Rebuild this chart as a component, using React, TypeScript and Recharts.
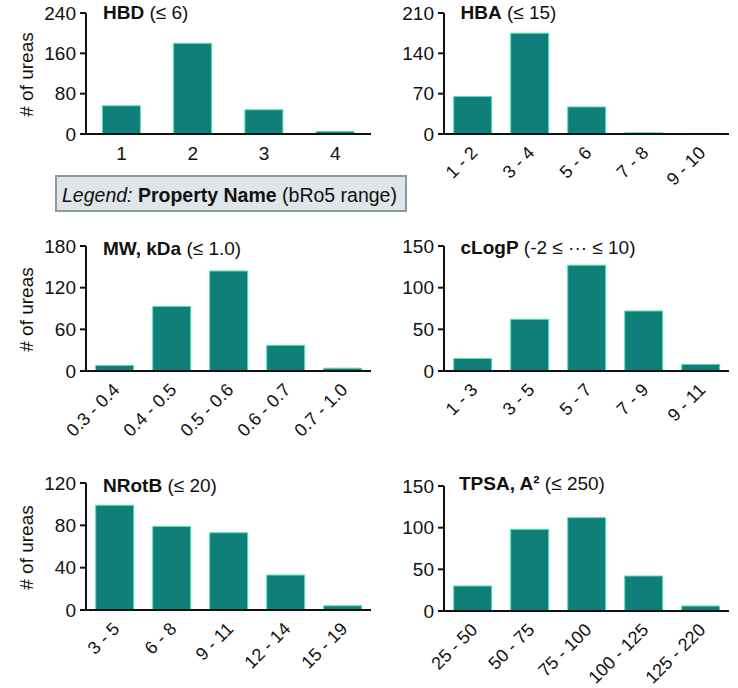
import React from 'react';
import { BarChart, Bar, XAxis, YAxis } from 'recharts';

const FONT = 'Arial, "Liberation Sans", Helvetica, sans-serif';
const BAR_FILL = '#107f7a';
const BAR_EDGE = '#4fe3b6';
const INK = '#111';

// counts of ureas per bin
const hbdCats = ['1', '2', '3', '4'];
const hbdCounts = [56, 180, 48, 5];
const hbdTicks = [0, 80, 160, 240];

const hbaCats = ['1 - 2', '3 - 4', '5 - 6', '7 - 8', '9 - 10'];
const hbaCounts = [65, 175, 47, 2, 1];
const hbaTicks = [0, 70, 140, 210];

const mwCats = ['0.3 - 0.4', '0.4 - 0.5', '0.5 - 0.6', '0.6 - 0.7', '0.7 - 1.0'];
const mwCounts = [8, 93, 144, 37, 4];
const mwTicks = [0, 60, 120, 180];

const clogpCats = ['1 - 3', '3 - 5', '5 - 7', '7 - 9', '9 - 11'];
const clogpCounts = [15, 62, 127, 72, 8];
const clogpTicks = [0, 50, 100, 150];

const nrotbCats = ['3 - 5', '6 - 8', '9 - 11', '12 - 14', '15 - 19'];
const nrotbCounts = [99, 79, 73, 33, 4];
const nrotbTicks = [0, 40, 80, 120];

const tpsaCats = ['25 - 50', '50 - 75', '75 - 100', '100 - 125', '125 - 220'];
const tpsaCounts = [30, 98, 112, 42, 6];
const tpsaTicks = [0, 50, 100, 150];

const FlatTick = (props: any) => {
  const { x, y, payload } = props;
  return (
    <text x={x} y={y + 26} textAnchor="middle" fontSize={19} fontFamily={FONT} fill={INK}>
      {payload.value}
    </text>
  );
};

const AngledTick = (props: any) => {
  const { x, y, payload } = props;
  const ax = x + 6;
  const ay = y + 20;
  return (
    <text x={ax} y={ay} textAnchor="end" transform={`rotate(-45 ${ax} ${ay})`} fontSize={18} fontFamily={FONT} fill={INK}>
      {payload.value}
    </text>
  );
};

const UreaLabel = (props: any) => {
  const vb = props.viewBox || {};
  const cx = 33;
  const cy = vb.y + vb.height / 2 + 1;
  return (
    <text x={cx} y={cy} textAnchor="middle" transform={`rotate(-90 ${cx} ${cy})`} fontSize={19} fontFamily={FONT} fill={INK}>
      # of ureas
    </text>
  );
};

type PanelProps = {
  cats: string[];
  counts: number[];
  ticks: number[];
  left: number;
  top: number;
  width: number;
  plotTop: number;
  plotHeight: number;
  axisHeight: number;
  yWidth: number;
  angled: boolean;
  gap: string;
  showLabel: boolean;
};

const Panel = ({ cats, counts, ticks, left, top, width, plotTop, plotHeight, axisHeight, yWidth, angled, gap, showLabel }: PanelProps) => {
  const data = cats.map((c, i) => ({ cat: c, count: counts[i] }));
  const height = plotTop + plotHeight + axisHeight;
  return (
    <div style={{ position: 'absolute', left, top }}>
      <BarChart width={width} height={height} data={data} margin={{ top: plotTop, right: 1, bottom: 0, left: 0 }} barCategoryGap={gap}>
        <XAxis
          dataKey="cat"
          height={axisHeight}
          interval={0}
          tickLine={false}
          tickSize={0}
          tickMargin={0}
          axisLine={{ stroke: INK, strokeWidth: 2 }}
          tick={angled ? <AngledTick /> : <FlatTick />}
        />
        <YAxis
          width={yWidth}
          domain={[0, ticks[ticks.length - 1]]}
          ticks={ticks}
          interval={0}
          axisLine={{ stroke: INK, strokeWidth: 2 }}
          tickLine={{ stroke: INK, strokeWidth: 2 }}
          tickSize={6}
          tickMargin={4}
          tick={{ fontSize: 19, fill: INK, fontFamily: FONT }}
          label={showLabel ? UreaLabel : undefined}
        />
        <Bar dataKey="count" fill={BAR_FILL} stroke={BAR_EDGE} strokeWidth={1} isAnimationActive={false} />
      </BarChart>
    </div>
  );
};

const Title = ({ x, y, bold, rest }: { x: number; y: number; bold: string; rest: string }) => (
  <text x={x} y={y} fontSize={19} fontFamily={FONT} fill={INK}>
    <tspan fontWeight="bold">{bold}</tspan>
    <tspan>{' ' + rest}</tspan>
  </text>
);

export default function App() {
  return (
    <div style={{ position: 'absolute', left: 0, top: 0, width: 738, height: 688, background: '#fff', fontFamily: FONT }}>
      <Panel cats={hbdCats} counts={hbdCounts} ticks={hbdTicks} left={0} top={0} width={372} plotTop={13} plotHeight={121} axisHeight={50} yWidth={86} angled={false} gap="23%" showLabel />
      <Panel cats={hbaCats} counts={hbaCounts} ticks={hbaTicks} left={372} top={0} width={358} plotTop={13} plotHeight={121} axisHeight={60} yWidth={72} angled gap="17%" showLabel={false} />
      <Panel cats={mwCats} counts={mwCounts} ticks={mwTicks} left={0} top={225} width={372} plotTop={21} plotHeight={125} axisHeight={80} yWidth={86} angled gap="17%" showLabel />
      <Panel cats={clogpCats} counts={clogpCounts} ticks={clogpTicks} left={372} top={225} width={358} plotTop={21} plotHeight={125} axisHeight={80} yWidth={72} angled gap="17%" showLabel={false} />
      <Panel cats={nrotbCats} counts={nrotbCounts} ticks={nrotbTicks} left={0} top={460} width={372} plotTop={23} plotHeight={127} axisHeight={78} yWidth={86} angled gap="17%" showLabel />
      <Panel cats={tpsaCats} counts={tpsaCounts} ticks={tpsaTicks} left={372} top={460} width={358} plotTop={26} plotHeight={125} axisHeight={77} yWidth={72} angled gap="17%" showLabel={false} />
      <svg width={738} height={688} style={{ position: 'absolute', left: 0, top: 0, pointerEvents: 'none' }}>
        <Title x={103} y={18.5} bold="HBD" rest="(≤ 6)" />
        <Title x={460.5} y={18.5} bold="HBA" rest="(≤ 15)" />
        <Title x={103} y={255} bold="MW, kDa" rest="(≤ 1.0)" />
        <Title x={460.5} y={253.5} bold="cLogP" rest="(-2 ≤ ··· ≤ 10)" />
        <Title x={103} y={491.5} bold="NRotB" rest="(≤ 20)" />
        <Title x={459} y={490} bold="TPSA, A²" rest="(≤ 250)" />
        <rect x={56} y={176} width={350} height={35} fill="#dfe5e8" stroke="#8b9a9f" strokeWidth={2} />
        <text x={62} y={201.5} fontSize={19.5} fontFamily={FONT} fill={INK}>
          <tspan fontStyle="italic">Legend:</tspan>
          <tspan fontWeight="bold">{' Property Name'}</tspan>
          <tspan>{' (bRo5 range)'}</tspan>
        </text>
      </svg>
    </div>
  );
}
